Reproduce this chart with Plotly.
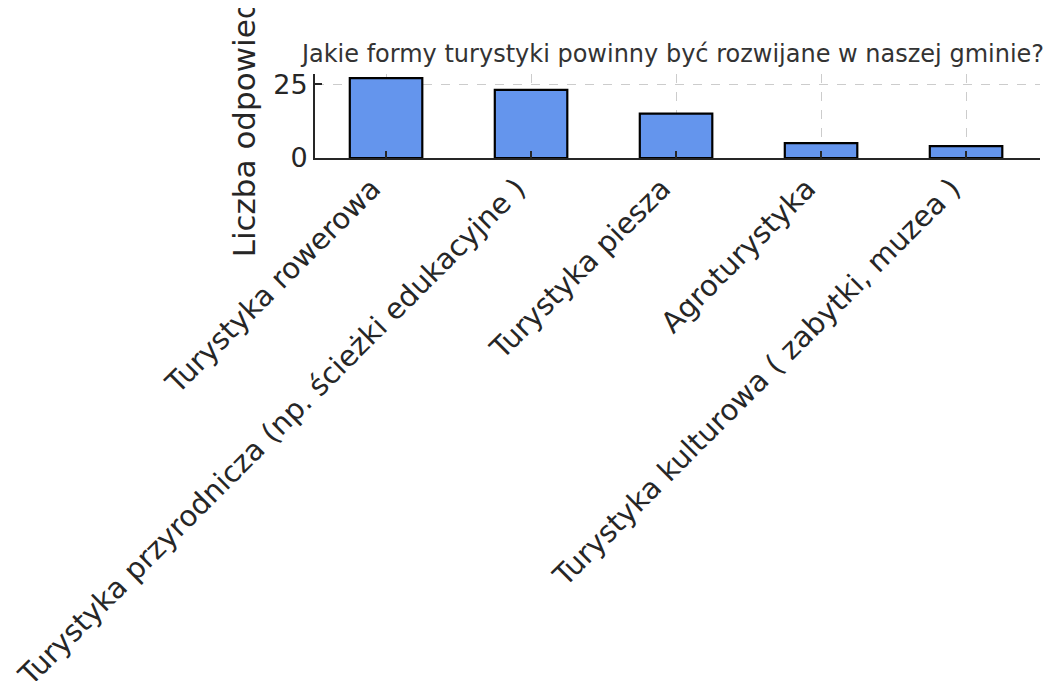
import plotly.graph_objects as go

categories = [
    "Turystyka rowerowa",
    "Turystyka przyrodnicza (np. ścieżki edukacyjne )",
    "Turystyka piesza",
    "Agroturystyka",
    "Turystyka kulturowa ( zabytki, muzea )",
]
values = [27, 23, 15, 5, 4]
title = "Jakie formy turystyki powinny być rozwijane w naszej gminie?"
ylabel = "Liczba odpowiedzi"
yticks = [0, 25]

FONT = "DejaVu Sans"
W, H = 1049, 673  # page body has an 8px margin
L, T, R, B = 307, 66, 1032, 150  # plot area in figure pixels

fig = go.Figure(go.Bar(
    x=categories, y=values, width=0.5,
    marker=dict(color="#6495ED", line=dict(color="black", width=2.2)),
))

fig.update_layout(
    width=W, height=H,
    margin=dict(l=L, r=W - R, t=T, b=H - B, autoexpand=False),
    paper_bgcolor="white", plot_bgcolor="white",
    font=dict(family=FONT, color="#262626"),
    title=dict(text=title, x=665 / W, xanchor="center",
               y=1 - 46 / H, yanchor="middle",
               font=dict(size=24, color="#333333", family=FONT)),
    showlegend=False,
)
fig.update_xaxes(
    range=[-0.49, 4.51], tickangle=-45, tickfont=dict(size=29, family=FONT, color="#262626"),
    showgrid=True, gridcolor="#cccccc", griddash="dash", gridwidth=1,
    showline=True, linecolor="#262626", linewidth=2,
    ticks="inside", ticklen=7, tickwidth=2, tickcolor="#262626",
    automargin=False, ticklabelshift=-14,
)
fig.update_yaxes(
    range=[0, 28.4], tickvals=yticks, tickfont=dict(size=27, family=FONT, color="#262626"),
    showgrid=True, gridcolor="#cccccc", griddash="dash", gridwidth=1,
    showline=True, linecolor="#262626", linewidth=2,
    ticks="inside", ticklen=7, tickwidth=2, tickcolor="#262626",
    zeroline=False, automargin=False,
    title=dict(text=ylabel, font=dict(size=31, family=FONT, color="#262626"), standoff=8),
)

fig.write_html("out.html")
